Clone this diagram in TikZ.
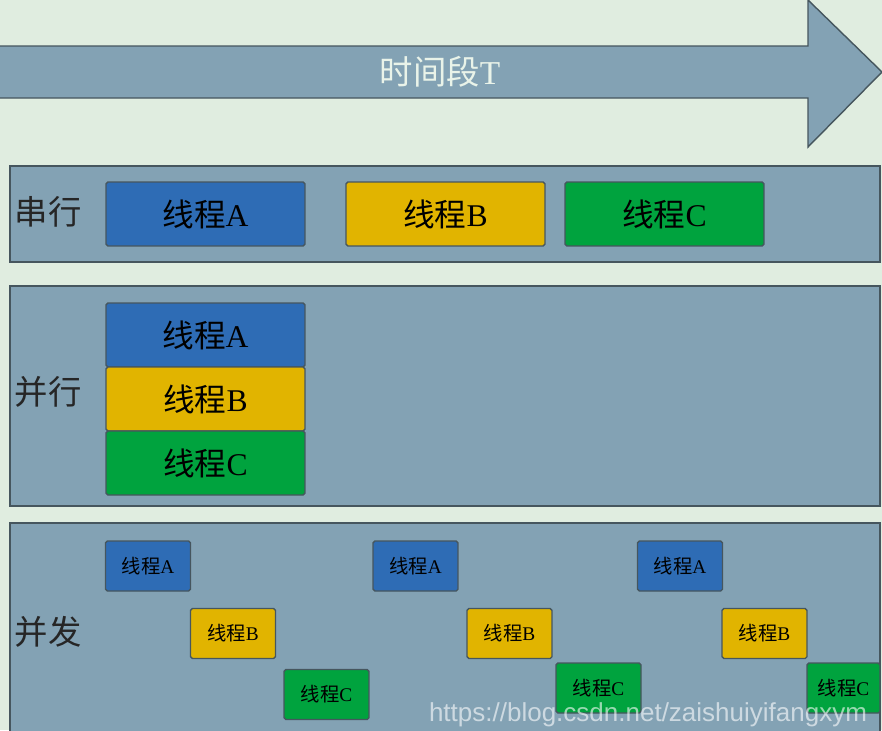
\documentclass[tikz,border=0pt]{standalone}
\usepackage{fontspec}
\setmainfont{Liberation Serif}
\newfontfamily\cjk{Noto Sans CJK SC}
\newfontfamily\urlfont{Liberation Sans}
\definecolor{bggreen}{HTML}{E0EDE0}
\definecolor{panelblue}{HTML}{83A2B4}
\definecolor{edgegray}{HTML}{46565E}
\definecolor{threadA}{HTML}{2E6CB5}
\definecolor{threadB}{HTML}{E1B400}
\definecolor{threadC}{HTML}{00A33E}
\newcommand{\thr}[1]{{\cjk 线程}#1}
\begin{document}
\begin{tikzpicture}[x=0.02cm,y=-0.02cm,
    panel/.style={draw=edgegray,fill=panelblue,line width=0.8pt},
    thread/.style={draw=edgegray,line width=0.8pt,rounded corners=1pt,inner sep=0pt,text=black},
    big/.style={thread,minimum width=3.98cm,minimum height=1.28cm,font=\fontsize{18}{18}\selectfont},
    small/.style={thread,minimum width=1.7cm,minimum height=1cm,font=\fontsize{11}{11}\selectfont},
    rowname/.style={font=\cjk\fontsize{19}{19}\selectfont,text=black!85}]
  \clip (0,0) rectangle (882,730);
  \fill[bggreen] (0,0) rectangle (882,730);
  % time arrow
  \draw[panel] (-5,46) -- (808,46) -- (808,0) -- (882,72) -- (808,147) -- (808,98) -- (-5,98) -- cycle;
  \node[font=\fontsize{19}{19}\selectfont,text=bggreen!70!white] (period) at (440,72) {{\cjk 时间段}T};
  % panels
  \draw[panel] (10,166) rectangle (880,262);
  \draw[panel] (10,286) rectangle (880,506);
  \draw[panel] (10,523) rectangle (880,745);
  \node[rowname] (serial) at (48,212) {串行};
  \node[rowname] (parallel) at (48,392) {并行};
  \node[rowname] (concurrent) at (48,632) {并发};
  % serial
  \node[big,fill=threadA] (serA) at (205.5,214) {\thr{A}};
  \node[big,fill=threadB] (serB) at (445.5,214) {\thr{B}};
  \node[big,fill=threadC] (serC) at (664.5,214) {\thr{C}};
  % parallel
  \node[big,fill=threadA] (parA) at (205.5,335) {\thr{A}};
  \node[big,fill=threadB] (parB) at (205.5,399) {\thr{B}};
  \node[big,fill=threadC] (parC) at (205.5,463) {\thr{C}};
  % concurrent
  \foreach \n/\x in {1/148,2/415.5,3/680}
    \node[small,fill=threadA] (conA\n) at (\x,566) {\thr{A}};
  \foreach \n/\x in {1/233,2/509.5,3/764.5}
    \node[small,fill=threadB] (conB\n) at (\x,633.5) {\thr{B}};
  \node[small,fill=threadC] (conC1) at (326.5,694.5) {\thr{C}};
  \node[small,fill=threadC] (conC2) at (598.5,688) {\thr{C}};
  \node[small,fill=threadC,minimum width=1.46cm] (conC3) at (843.5,688) {\thr{C}};
  \node[font=\urlfont\fontsize{14.8}{14.8}\selectfont,text=white,text opacity=0.6] (mark) at (648,715) {https://blog.csdn.net/zaishuiyifangxym};
\end{tikzpicture}
\end{document}
